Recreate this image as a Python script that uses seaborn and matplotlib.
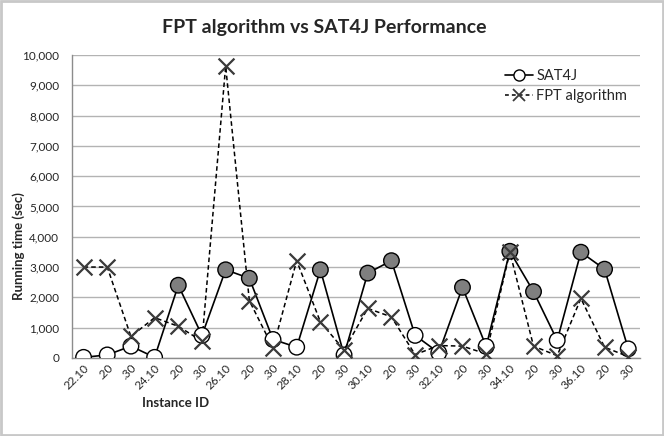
import numpy as np
import pandas as pd
import matplotlib.pyplot as plt
import seaborn as sns
from matplotlib.lines import Line2D
from matplotlib.patches import Rectangle
from matplotlib.ticker import FuncFormatter, FixedLocator

# Data
instances = ['22.10', '.20', '.30', '24.10', '.20', '.30', '26.10', '.20', '.30',
             '28.10', '.20', '.30', '30.10', '.20', '.30', '32.10', '.20', '.30',
             '34.10', '.20', '.30', '36.10', '.20', '.30']
sat4j = [20, 100, 390, 20, 2400, 745, 2910, 2630, 610,
         355, 2910, 100, 2800, 3210, 745, 170, 2330, 380,
         3520, 2190, 580, 3490, 2930, 300]
fpt = [3000, 3000, 710, 1330, 1045, 555, 9630, 1890, 335,
       3210, 1190, 265, 1635, 1355, 110, 410, 390, 135,
       3500, 390, 75, 1965, 355, 45]
# grey-filled SAT4J markers in the reference
sat4j_grey = [False, False, False, False, True, False, True, True, False,
              False, True, False, True, True, False, False, True, False,
              True, True, False, True, True, False]

df = pd.DataFrame({
    'pos': np.arange(len(instances)),
    'instance': instances,
    'SAT4J': sat4j,
    'FPT algorithm': fpt,
    'grey': sat4j_grey,
})

sns.set_style('white')
plt.rcParams['font.family'] = ['Lato', 'DejaVu Sans']

fig = plt.figure(figsize=(6.64, 4.36), dpi=100)
ax = fig.add_axes([0.108, 0.179, 0.856, 0.695])

# lines
sns.lineplot(data=df, x='pos', y='FPT algorithm', ax=ax, color='black',
             linestyle=(0, (3, 2)), linewidth=1.1, zorder=2)
sns.lineplot(data=df, x='pos', y='SAT4J', ax=ax, color='black',
             linewidth=1.2, zorder=3)
# markers
sns.scatterplot(data=df, x='pos', y='SAT4J', hue='grey', ax=ax,
                palette={True: '#7f7f7f', False: 'white'}, edgecolor='black',
                linewidth=1.0, s=125, legend=False, zorder=4)
sns.scatterplot(data=df, x='pos', y='FPT algorithm', ax=ax, marker='x',
                color='#3a3a3a', linewidth=1.6, s=130, legend=False, zorder=5)

ax.set_xlim(-0.5, len(instances) - 0.5)
ax.set_ylim(0, 10000)
ax.set_yticks(np.arange(0, 10001, 1000))
ax.yaxis.set_major_formatter(FuncFormatter(lambda v, p: f'{int(v):,}'))
ax.grid(axis='y', color='#b3b3b3', linewidth=1.0)
ax.set_axisbelow(True)

# category axis: ticks between categories, labels at centres
ax.xaxis.set_major_locator(FixedLocator(np.arange(-0.5, len(instances), 1.0)))
ax.xaxis.set_major_formatter(FuncFormatter(lambda v, p: ''))
ax.set_xticks(np.arange(len(instances)), instances, minor=True)
ax.tick_params(axis='x', which='major', length=4, color='#8c8c8c', width=1)
ax.tick_params(axis='x', which='minor', length=0, pad=3, labelsize=8.5)
for lbl in ax.get_xticklabels(minor=True):
    lbl.set_rotation(45)
    lbl.set_ha('right')
    lbl.set_va('top')
    lbl.set_rotation_mode('anchor')
ax.tick_params(axis='y', length=5, color='#8c8c8c', width=1, labelsize=8.5, pad=4)

for side in ['top', 'right']:
    ax.spines[side].set_visible(False)
for side in ['left', 'bottom']:
    ax.spines[side].set_color('#8c8c8c')
    ax.spines[side].set_linewidth(1.0)

ax.set_xlabel('Instance ID', fontsize=9.5, fontweight='bold')
ax.xaxis.set_label_coords(0.183, -0.128)
ax.set_ylabel('Running time (sec)', fontsize=9.5, fontweight='bold')
ax.yaxis.set_label_coords(-0.082, 0.37)

fig.text(0.489, 0.938, 'FPT algorithm vs SAT4J Performance', ha='center',
         va='center', fontsize=14, fontweight='bold')

handles = [
    Line2D([], [], color='black', linewidth=1.2, marker='o', markersize=8,
           markerfacecolor='white', markeredgecolor='black'),
    Line2D([], [], color='black', linewidth=1.1, linestyle=(0, (2.5, 2)),
           marker='x', markersize=8, markeredgecolor='#3a3a3a', markeredgewidth=1.3),
]
ax.legend(handles, ['SAT4J', 'FPT algorithm'], loc='upper left',
          bbox_to_anchor=(0.7605, 0.842), bbox_transform=fig.transFigure,
          frameon=False, fontsize=10.5, handlelength=1.9, handletextpad=0.25,
          borderpad=0, borderaxespad=0, labelspacing=0.45)

fig.patches.append(Rectangle((0.002, 0.003), 0.996, 0.994, transform=fig.transFigure,
                             fill=False, edgecolor='#c8c8c8', linewidth=2))

fig.savefig('out.png', dpi=100)
